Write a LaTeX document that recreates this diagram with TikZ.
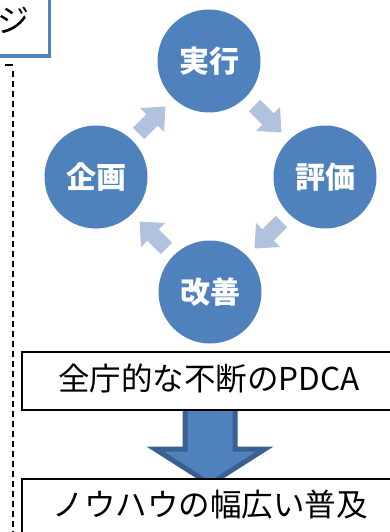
\documentclass[tikz,border=0pt]{standalone}
\usepackage{fontspec}
\setmainfont{Noto Sans CJK JP}
\definecolor{cblue}{HTML}{4F81BD}
\definecolor{cdark}{HTML}{3A6090}
\definecolor{clight}{HTML}{B0C2DE}
\tikzset{
  circ/.style={circle, fill=cblue, minimum size=103pt, inner sep=0pt, text=white,
    font=\bfseries\fontsize{30}{30}\selectfont},
  framebox/.style={draw=black, line width=1.5pt, fill=white, inner sep=0pt, anchor=north west},
  boxtext/.style={inner sep=0pt, font=\fontsize{31.5}{32}\selectfont},
  cyclearrow/.pic={\fill[clight] (-19,-8) -- (0,-8) -- (0,-17) -- (19,0) -- (0,17) -- (0,8) -- (-19,8) -- cycle;}
}
\begin{document}
\begin{tikzpicture}[x=1pt,y=-1pt]
\useasboundingbox (0,0) rectangle (390,532);
\clip (0,0) rectangle (390,532);
% top-left partial box
\node[draw=cblue, line width=3.5pt, fill=white, minimum width=90pt, minimum height=90pt, anchor=south east, inner sep=0pt] (topbox) at (51,58) {};
\node[anchor=east, inner sep=0pt, font=\fontsize{32}{32}\selectfont] (toptext) at (30,20) {ジ};
% dashed line
\coordinate (dtick) at (5,65);
\coordinate (dtop) at (13,65);
\coordinate (dbot) at (13,540);
\draw[line width=1.2pt] (dtick) -- (dtop);
\draw[line width=1.2pt, dash pattern=on 6pt off 4pt] ([yshift=-6pt]dtop) -- (dbot);
% circles
\node[circ] (jikko) at (209,61) {実行};
\node[circ] (hyoka) at (325,177) {評価};
\node[circ] (kaizen) at (210,292) {改善};
\node[circ] (kikaku) at (96,177) {企画};
% cycle arrows
\pic[rotate=-45] at (268,119) {cyclearrow};
\pic[rotate=-135] at (268,235) {cyclearrow};
\pic[rotate=135] at (153,235) {cyclearrow};
\pic[rotate=45] at (152,120) {cyclearrow};
% big down arrow
\draw[fill=cblue, draw=cdark, line width=5pt, line join=miter]
  (185,400) -- (235,400) -- (235,449) -- (265,449) -- (210,484) -- (155,449) -- (185,449) -- cycle;
% boxes
\node[framebox, minimum width=390pt, minimum height=58pt] (pdca) at (21,351) {};
\node[boxtext] (pdcatext) at (209,379) {全庁的な不断のPDCA};
\node[framebox, minimum width=390pt, minimum height=70pt] (fukyu) at (21,478) {};
\node[boxtext] (fukyutext) at (210,505) {ノウハウの幅広い普及};
\end{tikzpicture}
\end{document}
